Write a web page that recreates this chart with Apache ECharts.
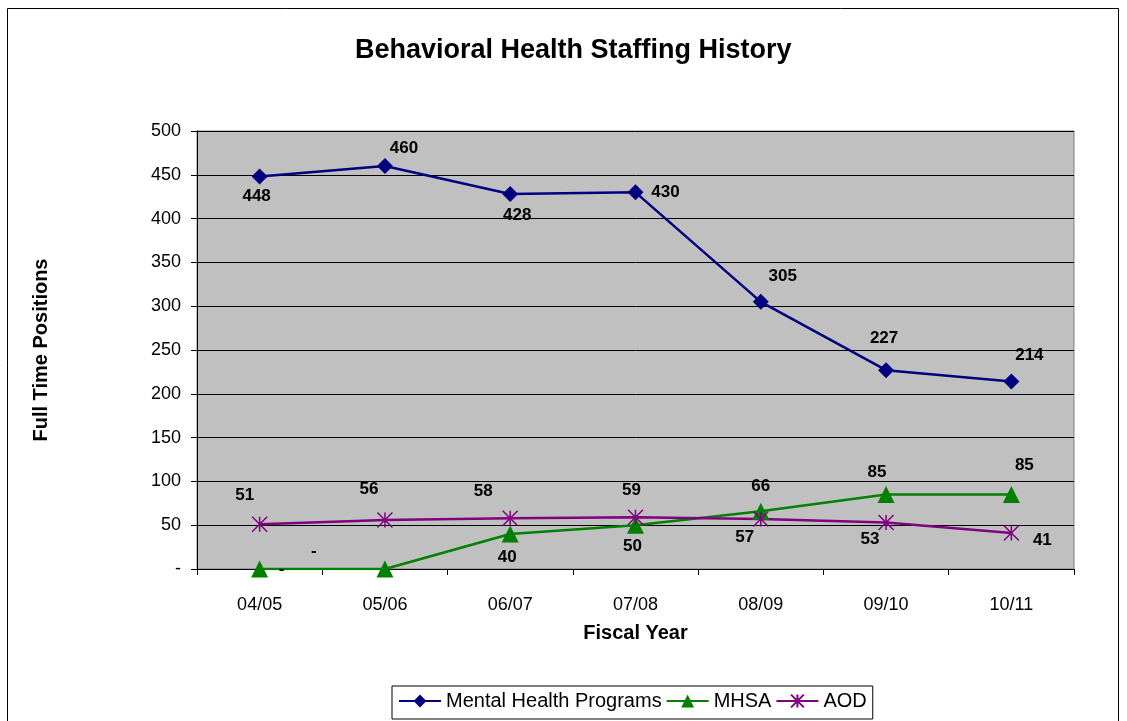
<!DOCTYPE html>
<html>
<head>
<meta charset="utf-8">
<script src="https://cdn.jsdelivr.net/npm/echarts@6/dist/echarts.min.js"></script>
<style>
html,body{margin:0;padding:0;background:#fff;}
#main{width:1127px;height:721px;}
</style>
</head>
<body>
<div id="main"></div>
<script>
const years = ['04/05', '05/06', '06/07', '07/08', '08/09', '09/10', '10/11'];
const mentalHealth = [448, 460, 428, 430, 305, 227, 214];
const mhsa = [0, 0, 40, 50, 66, 85, 85];
const aod = [51, 56, 58, 59, 57, 53, 41];

// label offsets (px) from each point
const mhOffsets = [[-3, 20], [19, -18], [7, 21], [30, 0], [22, -26], [-2, -32], [18, -26]];
const mhsaOffsets = [[22, 0], [-71, -18], [-3, 23], [-3, 21], [0, -25], [-9, -22], [13, -29]];
const aodOffsets = [[-15, -29], [-16, -31], [-27, -27], [-4, -27], [-16, 18], [-16, 17], [31, 7]];

const font = 'Liberation Sans, Arial, sans-serif';

function withLabels(values, offsets) {
  return values.map(function (v, i) {
    return {
      value: v,
      label: {
        show: true,
        position: 'inside',
        offset: offsets[i],
        formatter: v === 0 ? '-' : String(v),
        fontFamily: font,
        fontWeight: 'bold',
        fontSize: 17,
        color: '#000'
      }
    };
  });
}

const chart = echarts.init(document.getElementById('main'));

chart.setOption({
  animation: false,
  backgroundColor: '#fff',
  title: {
    text: 'Behavioral Health Staffing History',
    left: 350,
    top: 32,
    textStyle: { fontFamily: font, fontWeight: 'bold', fontSize: 27, color: '#000' }
  },
  graphic: [{
    type: 'rect',
    shape: { x: 7.5, y: 8.5, width: 1111, height: 730 },
    style: { fill: 'none', stroke: '#000', lineWidth: 1 },
    z: -1
  }],
  grid: {
    left: 197, right: 53, top: 131, bottom: 152,
    show: true,
    backgroundColor: '#c0c0c0',
    borderColor: '#808080',
    borderWidth: 1
  },
  legend: {
    top: 686,
    left: 392,
    itemWidth: 42,
    itemHeight: 16,
    itemGap: 4,
    padding: [5, 6, 8, 6],
    borderColor: '#000',
    borderWidth: 1,
    borderRadius: 0,
    backgroundColor: '#fff',
    textStyle: { fontFamily: font, fontSize: 20, color: '#000' },
    data: ['Mental Health Programs', 'MHSA', 'AOD']
  },
  xAxis: {
    type: 'category',
    data: years,
    boundaryGap: true,
    name: 'Fiscal Year',
    nameLocation: 'middle',
    nameGap: 54,
    nameTextStyle: { fontFamily: font, fontWeight: 'bold', fontSize: 20, color: '#000' },
    axisLine: { lineStyle: { color: '#000', width: 1 } },
    axisTick: { show: true, alignWithLabel: false, length: 6, lineStyle: { color: '#000' } },
    axisLabel: { fontFamily: font, fontSize: 18, color: '#000', margin: 27 },
    splitLine: { show: false }
  },
  yAxis: {
    type: 'value',
    min: 0,
    max: 500,
    interval: 50,
    name: 'Full Time Positions',
    nameLocation: 'middle',
    nameGap: 146,
    nameRotate: 90,
    nameTextStyle: { fontFamily: font, fontWeight: 'bold', fontSize: 20, color: '#000' },
    axisLine: { show: true, lineStyle: { color: '#000', width: 1 } },
    axisTick: { show: true, length: 6, lineStyle: { color: '#000' } },
    axisLabel: {
      fontFamily: font, fontSize: 18, color: '#000', margin: 16,
      formatter: function (v) { return v === 0 ? '-' : String(v); }
    },
    splitLine: { show: true, lineStyle: { color: '#000', width: 1 } }
  },
  series: [
    {
      name: 'Mental Health Programs',
      type: 'line',
      data: withLabels(mentalHealth, mhOffsets),
      symbol: 'diamond',
      symbolSize: 16,
      color: '#000080',
      lineStyle: { color: '#000080', width: 2.5 },
      itemStyle: { color: '#000080' }
    },
    {
      name: 'MHSA',
      type: 'line',
      data: withLabels(mhsa, mhsaOffsets),
      symbol: 'triangle',
      symbolSize: 17,
      color: '#008000',
      lineStyle: { color: '#008000', width: 2.5 },
      itemStyle: { color: '#008000' }
    },
    {
      name: 'AOD',
      type: 'line',
      data: withLabels(aod, aodOffsets),
      symbol: 'path://M0,0L10,10M10,0L0,10M5,0L5,10',
      symbolSize: 15,
      color: '#800080',
      lineStyle: { color: '#800080', width: 2.5 },
      itemStyle: { color: 'none', borderColor: '#800080', borderWidth: 1.5 }
    }
  ]
});
</script>
</body>
</html>
